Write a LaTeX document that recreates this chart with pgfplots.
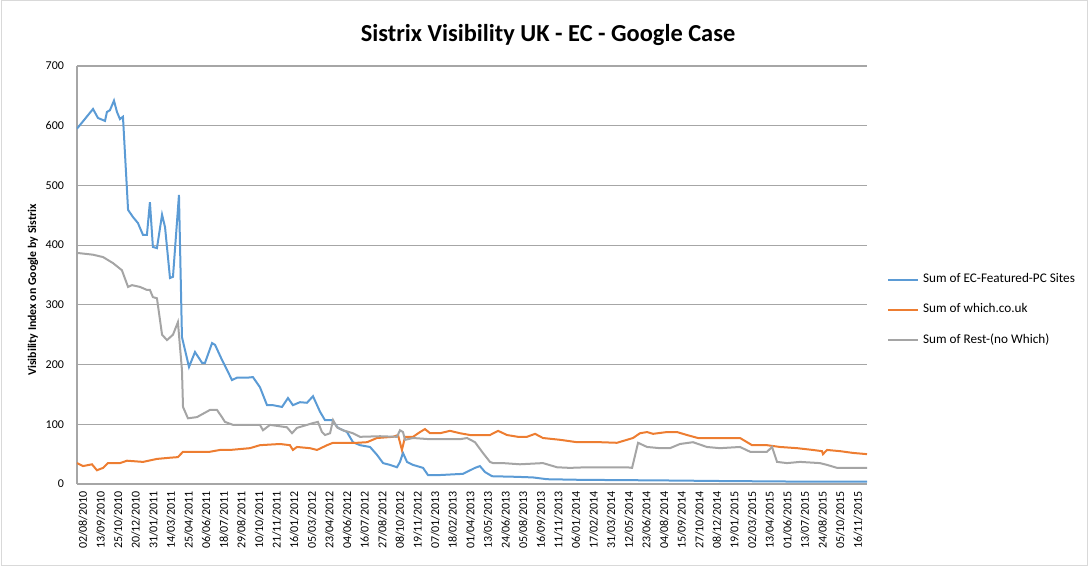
\documentclass[border=0pt]{standalone}
\usepackage{fontspec}
\setmainfont{Carlito}
\usepackage{pgfplots}
\pgfplotsset{compat=1.18}

\definecolor{ecblue}{HTML}{5B9BD5}
\definecolor{whichorange}{HTML}{ED7D31}
\definecolor{restgray}{HTML}{A5A5A5}
\definecolor{gridgray}{HTML}{A6A6A6}

\begin{document}
\begin{tikzpicture}
\useasboundingbox (0,0) rectangle (544pt,283.5pt);
\draw[gray!30, line width=0.5pt] (0.5pt,0.5pt) rectangle (543.5pt,283pt);
\node[font=\bfseries\fontsize{12.2}{14}\selectfont] at (274pt,266pt) {Sistrix Visibility UK - EC - Google Case};
\begin{axis}[
    at={(38.5pt,41.5pt)}, anchor=south west,
    scale only axis, width=395pt, height=209pt,
    xmin=-0.34, xmax=44.52, ymin=0, ymax=700,
    ytick={0,100,...,700},
    xtick={0,...,44},
    xticklabels={02/08/2010,13/09/2010,25/10/2010,20/12/2010,31/01/2011,14/03/2011,25/04/2011,06/06/2011,18/07/2011,29/08/2011,10/10/2011,21/11/2011,16/01/2012,05/03/2012,23/04/2012,04/06/2012,16/07/2012,27/08/2012,08/10/2012,19/11/2012,07/01/2013,18/02/2013,01/04/2013,13/05/2013,24/06/2013,05/08/2013,16/09/2013,11/11/2013,06/01/2014,17/02/2014,31/03/2014,12/05/2014,23/06/2014,04/08/2014,15/09/2014,27/10/2014,08/12/2014,19/01/2015,02/03/2015,13/04/2015,01/06/2015,13/07/2015,24/08/2015,05/10/2015,16/11/2015},
    x tick label style={rotate=90, anchor=east, font=\fontsize{6}{7}\selectfont},
    y tick label style={font=\fontsize{6}{7}\selectfont, xshift=-3pt},
    /pgf/number format/assume math mode=true,
    major tick length=0pt,
    axis x line*=bottom, axis y line*=left,
    axis line style={gridgray, line width=0.6pt, -},
    ymajorgrids, grid style={gridgray, line width=0.6pt},
    ylabel={Visibility Index on Google by Sistrix},
    ylabel style={font=\bfseries\fontsize{5.9}{6.5}\selectfont, at={(axis description cs:-0.0557,0.464)}, anchor=center},
    legend style={at={(axis description cs:1.025,0.416)}, anchor=west, draw=none, fill=none,
        font=\fontsize{6.6}{7.5}\selectfont, row sep=5pt, inner sep=0pt, cells={anchor=west}},
    legend image code/.code={\draw[#1] (0pt,0pt) -- (15pt,0pt);},
]

% Sum of EC-Featured-PC Sites
\addplot[ecblue, line width=1pt] coordinates {
(-0.34,595) (0.57,628) (0.85,613) (1.25,608) (1.36,623) (1.53,626) (1.76,642)
(1.93,623) (2.10,611) (2.27,615) (2.56,459) (2.84,447) (3.12,437) (3.41,417)
(3.63,417) (3.80,472) (3.97,397) (4.20,395) (4.49,451) (4.66,430) (4.94,345)
(5.11,347) (5.45,484) (5.62,246) (6.02,196) (6.36,221) (6.76,203) (6.93,203)
(7.33,236) (7.50,233) (7.89,208) (8.18,191) (8.46,174) (8.74,178) (9.31,178)
(9.65,179) (10.05,162) (10.45,132) (10.79,132) (11.30,129) (11.64,144) (11.92,132)
(12.32,137) (12.72,136) (13.06,147) (13.46,121) (13.74,107) (14.14,107) (14.48,94)
(14.99,87) (15.33,70) (15.73,65) (16.30,62) (16.69,49) (17.04,35) (17.43,32)
(17.83,28) (18.00,37) (18.17,52) (18.40,37) (18.74,32) (19.31,27) (19.59,15)
(20.27,15) (21.58,17) (22.26,27) (22.54,30) (22.83,20) (23.23,13) (24.64,12)
(25.55,11) (26.35,8) (28.22,7) (32.77,6) (36.17,5) (40.72,4) (44.52,4)
};
\addlegendentry{Sum of EC-Featured-PC Sites}

% Sum of which.co.uk
\addplot[whichorange, line width=1pt] coordinates {
(-0.34,35) (0,30) (0.51,33) (0.79,23) (1.14,27) (1.42,35) (2.10,35) (2.50,39)
(3.41,37) (4.20,42) (4.94,44) (5.39,45) (5.68,54) (6.47,54) (7.21,54) (7.78,57)
(8.35,57) (9.48,60) (10.05,65) (11.19,67) (11.75,65) (11.92,57) (12.15,62)
(12.89,60) (13.29,57) (13.86,65) (14.20,69) (14.99,69) (15.56,69) (16.13,70)
(16.69,77) (17.60,79) (17.89,82) (18.11,57) (18.29,79) (18.74,79) (19.14,87)
(19.42,92) (19.71,85) (20.27,85) (20.84,89) (21.41,85) (21.98,82) (23.11,82)
(23.57,89) (24.08,82) (24.70,79) (25.21,79) (25.67,84) (26.12,77) (27.09,74)
(28.05,70) (29.36,70) (30.32,69) (30.89,74) (31.23,77) (31.63,85) (32.03,87)
(32.37,84) (33.16,87) (33.73,87) (34.30,82) (34.92,77) (36.57,77) (37.31,77)
(37.71,70) (37.99,65) (38.84,65) (39.58,62) (40.55,60) (41.45,57) (41.96,55)
(42.02,50) (42.25,57) (42.99,55) (43.73,52) (44.52,50)
};
\addlegendentry{Sum of which.co.uk}

% Sum of Rest-(no Which)
\addplot[restgray, line width=1pt] coordinates {
(-0.34,387) (0.57,384) (1.14,380) (1.70,370) (2.21,358) (2.56,330) (2.78,333)
(3.24,330) (3.63,325) (3.80,325) (3.97,313) (4.20,311) (4.49,250) (4.77,241)
(5.11,250) (5.39,271) (5.62,191) (5.68,129) (5.96,110) (6.47,112) (7.21,124)
(7.61,124) (7.89,112) (8.06,104) (8.52,99) (10.05,99) (10.22,90) (10.62,99)
(11.58,95) (11.87,85) (12.15,94) (12.72,99) (13.06,102) (13.34,104) (13.57,87)
(13.74,82) (14.03,85) (14.20,107) (14.42,95) (14.76,90) (15.33,85) (15.73,79)
(16.87,80) (17.83,79) (18.00,90) (18.17,87) (18.29,74) (18.74,77) (19.71,75)
(21.41,75) (21.81,77) (22.26,70) (22.71,52) (23.11,37) (23.28,35) (23.85,35)
(24.81,33) (26.12,35) (26.92,28) (27.65,27) (28.62,28) (30.89,28) (31.18,27)
(31.52,69) (32.03,62) (32.77,60) (33.33,60) (33.90,67) (34.64,70) (35.43,62)
(36.17,60) (37.31,62) (37.88,54) (38.84,54) (39.13,62) (39.41,37) (39.98,35)
(40.72,37) (41.85,35) (42.25,32) (42.82,27) (44.52,27)
};
\addlegendentry{Sum of Rest-(no Which)}

\end{axis}
\end{tikzpicture}
\end{document}
